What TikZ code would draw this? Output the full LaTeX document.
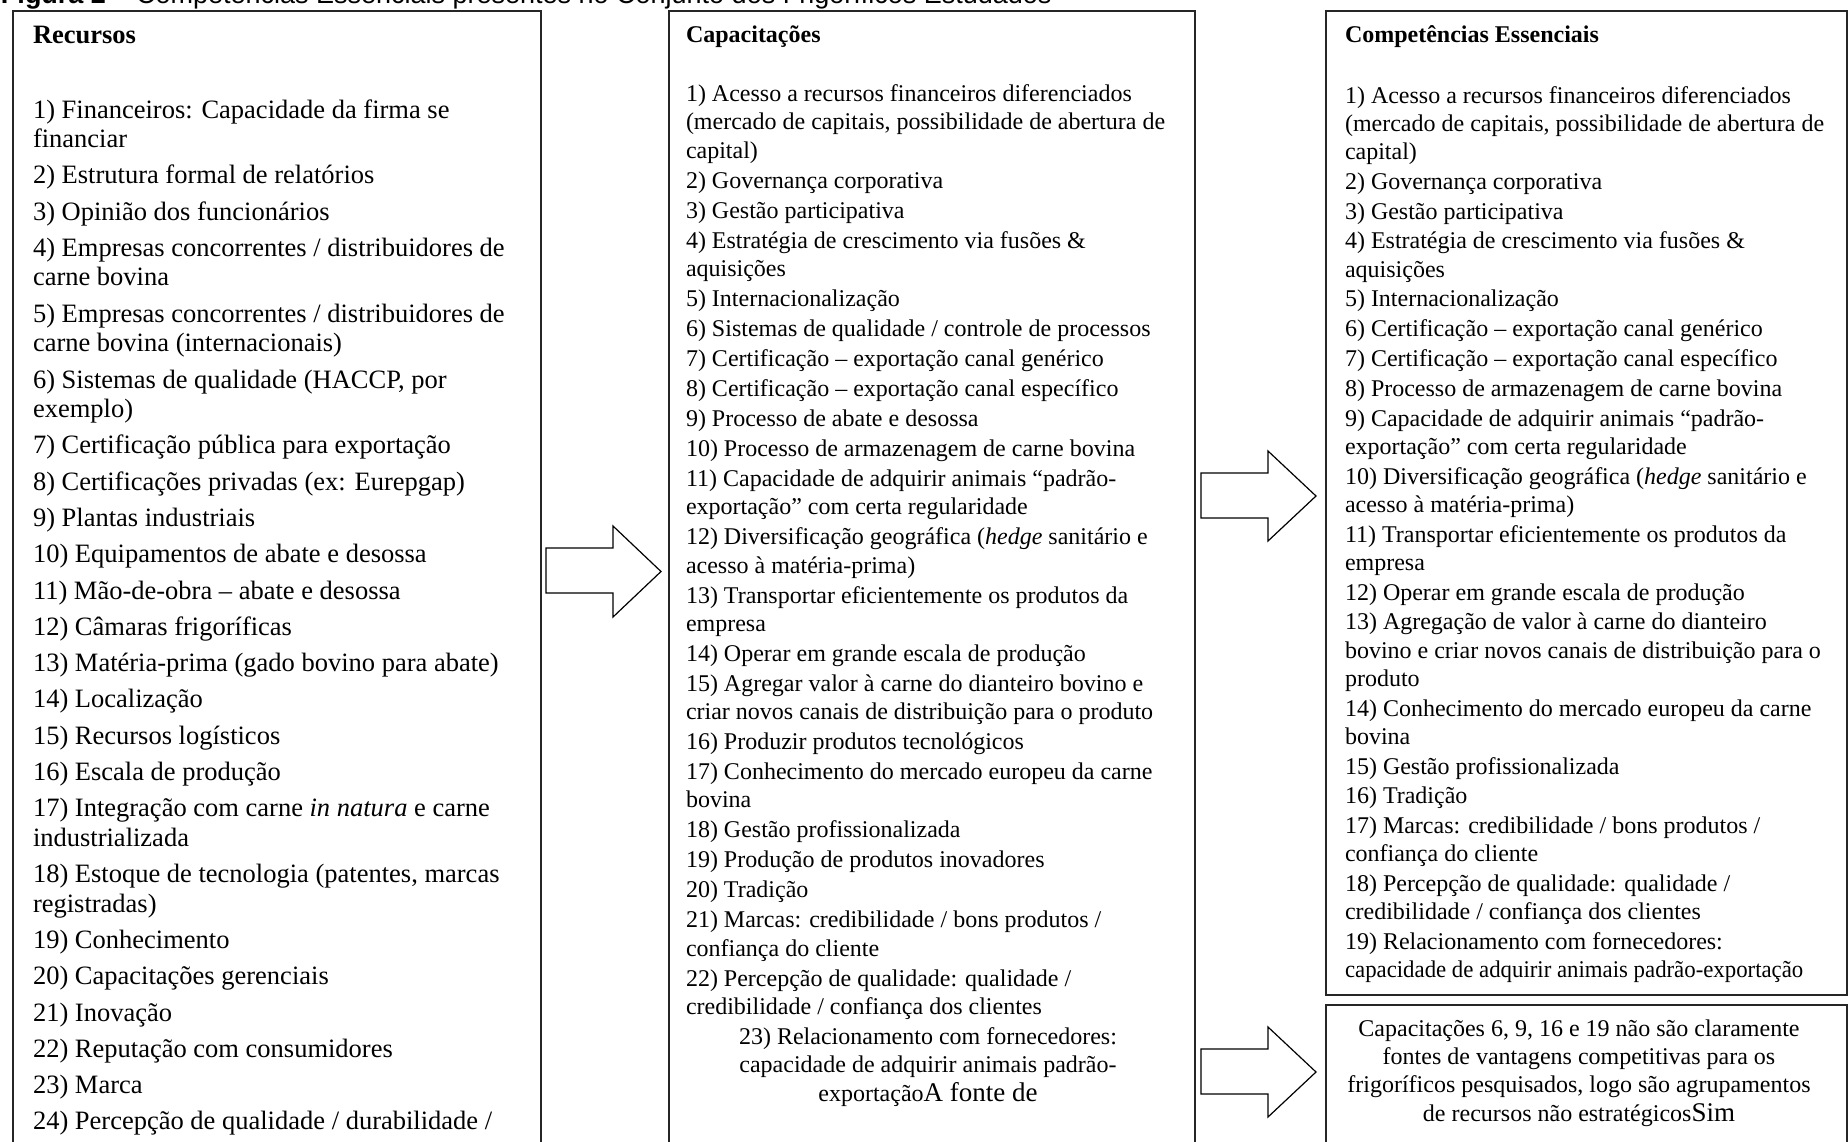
\documentclass[tikz,border=0pt]{standalone}
\usepackage{fontspec}
\setmainfont{Liberation Serif}
\newfontfamily\arialfont{Liberation Sans}
\tikzset{
  frame/.style={draw=black!85, line width=1.5pt, fill=none, inner sep=0pt, anchor=north west},
  blockarrow/.style={draw=black, line width=1.2pt, fill=white, line join=miter},
  listtext/.style={anchor=base west, inner sep=0pt, outer sep=0pt},
  centertext/.style={anchor=base, inner sep=0pt, outer sep=0pt},
}
\newcommand{\bigA}{\fontsize{24}{28.4}\selectfont}
\newcommand{\bigB}{\fontsize{27}{28.4}\selectfont}
\begin{document}
\begin{tikzpicture}[x=1pt,y=-1pt]
\useasboundingbox (0,0) rectangle (1848,1141);
\clip (0,0) rectangle (1848,1141);

% title (cut at the top)
\node[listtext] (title) at (1,3.5) {\arialfont\fontsize{27}{30}\selectfont\textbf{Figura 2} – Competências Essenciais presentes no Conjunto dos Frigoríficos Estudados};

% frames
\node[frame, minimum width=528pt, minimum height=1160pt] (recursos) at (12,10) {};
\node[frame, minimum width=526pt, minimum height=1160pt] (capac) at (668,10) {};
\node[frame, minimum width=521pt, minimum height=984pt] (compet) at (1325,10) {};
\node[frame, minimum width=521pt, minimum height=160pt] (nota) at (1325,1004) {};

% block arrows
\draw[blockarrow] (546,548) -- (613,548) -- (613,526) -- (661,571.5) -- (613,617) -- (613,593) -- (546,593) -- cycle;
\draw[blockarrow] (1201,473) -- (1268,473) -- (1268,451) -- (1316,496) -- (1268,541) -- (1268,518) -- (1201,518) -- cycle;
\draw[blockarrow] (1201,1049) -- (1268,1049) -- (1268,1027) -- (1316,1072) -- (1268,1117) -- (1268,1094) -- (1201,1094) -- cycle;

% Recursos
\node[listtext] (rec-h) at (33,43) {\fontsize{26.5}{29.5}\selectfont\bfseries Recursos};
\node[listtext] (rec-l) at (33,118) {\begin{minipage}[t]{700pt}\fontsize{26.5}{29.5}\selectfont\setlength{\parskip}{6.8pt}\raggedright
1) Financeiros: Capacidade da firma se\\ financiar\par
2) Estrutura formal de relatórios\par
3) Opinião dos funcionários\par
4) Empresas concorrentes / distribuidores de\\ carne bovina\par
5) Empresas concorrentes / distribuidores de\\ carne bovina (internacionais)\par
6) Sistemas de qualidade (HACCP, por\\ exemplo)\par
7) Certificação pública para exportação\par
8) Certificações privadas (ex: Eurepgap)\par
9) Plantas industriais\par
10) Equipamentos de abate e desossa\par
11) Mão-de-obra – abate e desossa\par
12) Câmaras frigoríficas\par
13) Matéria-prima (gado bovino para abate)\par
14) Localização\par
15) Recursos logísticos\par
16) Escala de produção\par
17) Integração com carne \textit{in natura} e carne\\ industrializada\par
18) Estoque de tecnologia (patentes, marcas\\ registradas)\par
19) Conhecimento\par
20) Capacitações gerenciais\par
21) Inovação\par
22) Reputação com consumidores\par
23) Marca\par
24) Percepção de qualidade / durabilidade /\par
\end{minipage}};

% Capacitacoes
\node[listtext] (cap-h) at (686,42) {\bigA\bfseries Capacitações};
\node[listtext] (cap-l) at (686,101.5) {\begin{minipage}[t]{700pt}\fontsize{24}{28.3}\selectfont\setlength{\parskip}{1.7pt}\raggedright
1) Acesso a recursos financeiros diferenciados\\ (mercado de capitais, possibilidade de abertura de\\ capital)\par
2) Governança corporativa\par
3) Gestão participativa\par
4) Estratégia de crescimento via fusões \&\\ aquisições\par
5) Internacionalização\par
6) Sistemas de qualidade / controle de processos\par
7) Certificação – exportação canal genérico\par
8) Certificação – exportação canal específico\par
9) Processo de abate e desossa\par
10) Processo de armazenagem de carne bovina\par
11) Capacidade de adquirir animais “padrão-\\ exportação” com certa regularidade\par
12) Diversificação geográfica (\textit{hedge} sanitário e\\ acesso à matéria-prima)\par
13) Transportar eficientemente os produtos da\\ empresa\par
14) Operar em grande escala de produção\par
15) Agregar valor à carne do dianteiro bovino e\\ criar novos canais de distribuição para o produto\par
16) Produzir produtos tecnológicos\par
17) Conhecimento do mercado europeu da carne\\ bovina\par
18) Gestão profissionalizada\par
19) Produção de produtos inovadores\par
20) Tradição\par
21) Marcas: credibilidade / bons produtos /\\ confiança do cliente\par
22) Percepção de qualidade: qualidade /\\ credibilidade / confiança dos clientes\par
\end{minipage}};
\node[centertext] (cap-23) at (928,1044.5) {\begin{minipage}[t]{480pt}\fontsize{24}{28.3}\selectfont\centering
23) Relacionamento com fornecedores:\\ capacidade de adquirir animais padrão-\\ exportação{\bigB A fonte de}\par
\end{minipage}};

% Competencias Essenciais
\node[listtext] (comp-h) at (1345,42) {\bigA\bfseries Competências Essenciais};
\node[listtext] (comp-l) at (1345,103) {\begin{minipage}[t]{700pt}\fontsize{24}{28.2}\selectfont\setlength{\parskip}{1.6pt}\raggedright
1) Acesso a recursos financeiros diferenciados\\ (mercado de capitais, possibilidade de abertura de\\ capital)\par
2) Governança corporativa\par
3) Gestão participativa\par
4) Estratégia de crescimento via fusões \&\\ aquisições\par
5) Internacionalização\par
6) Certificação – exportação canal genérico\par
7) Certificação – exportação canal específico\par
8) Processo de armazenagem de carne bovina\par
9) Capacidade de adquirir animais “padrão-\\ exportação” com certa regularidade\par
10) Diversificação geográfica (\textit{hedge} sanitário e\\ acesso à matéria-prima)\par
11) Transportar eficientemente os produtos da\\ empresa\par
12) Operar em grande escala de produção\par
13) Agregação de valor à carne do dianteiro\\ bovino e criar novos canais de distribuição para o\\ produto\par
14) Conhecimento do mercado europeu da carne\\ bovina\par
15) Gestão profissionalizada\par
16) Tradição\par
17) Marcas: credibilidade / bons produtos /\\ confiança do cliente\par
18) Percepção de qualidade: qualidade /\\ credibilidade / confiança dos clientes\par
19) Relacionamento com fornecedores:\\ \scalebox{0.95}[1]{capacidade de adquirir animais padrão-exportação}\par
\end{minipage}};

% nota
\node[centertext] (nota-t) at (1579,1036) {\begin{minipage}[t]{510pt}\fontsize{24}{28.4}\selectfont\centering
Capacitações 6, 9, 16 e 19 não são claramente\\ fontes de vantagens competitivas para os\\ frigoríficos pesquisados, logo são agrupamentos\\ de recursos não estratégicos{\bigB Sim}\par
\end{minipage}};
\end{tikzpicture}
\end{document}
